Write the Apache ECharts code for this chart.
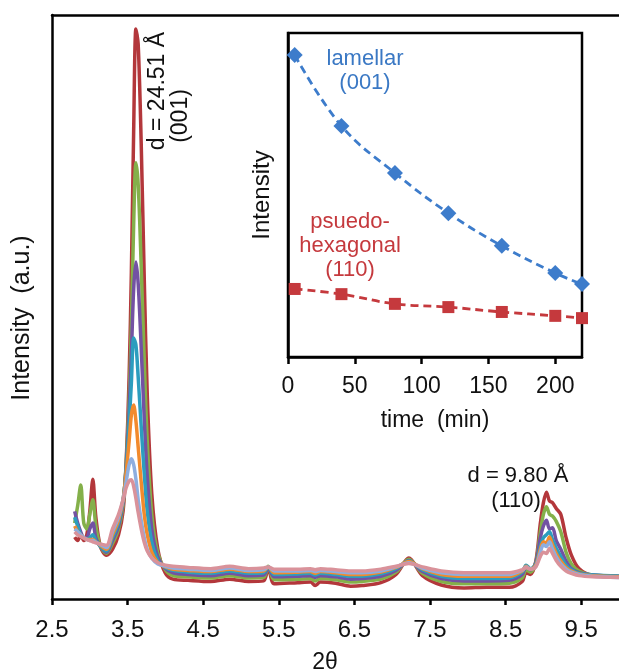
<!DOCTYPE html>
<html><head><meta charset="utf-8">
<script src="https://cdn.jsdelivr.net/npm/echarts@6/dist/echarts.min.js"></script>
<style>html,body{margin:0;padding:0;background:#fff}#c{width:619px;height:672px}</style>
</head><body><div id="c"></div>
<script>
// ---- main XRD patterns (2θ vs intensity, a.u.) ----
const twoTheta = [2.80,2.84,2.88,2.92,2.96,3.00,3.04,3.08,3.14,3.22,
  3.30,3.38,3.44,3.48,3.52,3.55,3.58,3.61,3.64,3.68,3.72,3.76,3.82,3.90,4.00,4.10,
  4.30,4.60,4.85,5.10,5.30,5.36,5.44,5.75,5.92,5.98,6.05,6.25,6.45,6.60,6.85,7.05,
  7.22,7.40,7.65,7.95,8.25,8.55,8.72,8.77,8.83,8.90,8.96,9.00,9.04,9.08,9.12,9.17,
  9.23,9.30,9.37,9.47,9.65,10.0];
const patRed = [10.6,10.0,11.0,10.0,11.0,15.0,20.5,14.0,9.0,7.5,
  8.5,11,15,23,38,56,80,97.6,95,78,55,35,18,8.5,4.4,3.4,
  3.2,3.0,3.4,3.0,3.1,5.3,2.6,2.8,2.9,2.3,2.9,2.7,2.2,2.3,2.8,4.2,
  7.0,4.0,2.4,1.9,2.0,2.0,3.0,4.5,4.2,6.5,13,16.5,18.3,16.8,16.5,15.5,
  14.5,10.5,7.5,5.2,4.0,3.8];
const patGreen = [13,16,19.5,13,12,14.5,17,12.5,9,7.8,
  9.5,12,16,23,34,47,64,74.7,71,57,41,27,14.5,7.8,5,4,
  3.8,3.6,4.0,3.6,3.7,5.6,3.3,3.4,3.5,3.1,3.5,3.3,2.9,3.0,3.4,4.6,
  6.8,4.4,3.0,2.6,2.6,2.7,3.6,5.0,4.6,6.3,11.5,14.5,15.8,14.5,14.2,13.3,
  11.5,8.0,6.0,4.8,4.1,3.9];
const patPurple = [15,13,11.5,10.5,10.5,12,13,10.5,9,8,
  10,12.5,16.5,22.5,32,42,53,57.7,54,43,31,21,12,7.2,5.2,4.5,
  4.2,4.0,4.4,4.0,4.1,5.4,3.8,3.9,4.0,3.7,4.0,3.8,3.4,3.5,3.9,4.9,
  6.6,4.7,3.5,3.1,3.1,3.2,4.2,5.6,5.0,6.2,10.5,12.5,13.5,12.0,12.2,10.0,
  8.5,6.5,5.2,4.5,4.1,3.9];
const patTeal = [14,12.5,11,10.5,10.3,10.5,11,10,9,8.2,
  10.5,13,17,22,30,37,44.7,43.5,38,29.5,21.5,15,9.8,6.6,5.4,4.9,
  4.6,4.4,4.8,4.4,4.5,5.5,4.2,4.3,4.4,4.1,4.4,4.2,3.9,3.9,4.3,5.2,
  6.5,5.0,3.9,3.5,3.5,3.6,4.6,5.8,5.2,6.0,9.0,10.5,11.0,11.5,10.2,8.7,
  7.3,5.8,5.0,4.4,4.1,3.9];
const patOrange = [12.5,11.5,11,10.5,10.2,10.2,10.2,9.8,9.2,8.5,
  11,13.5,17,21.5,27,31.5,33.2,30.5,26,20,14.5,11,8,6.2,5.5,5.1,
  4.9,4.7,5.1,4.7,4.8,5.5,4.5,4.6,4.7,4.4,4.7,4.5,4.2,4.2,4.6,5.4,
  6.4,5.2,4.2,3.9,3.9,3.9,4.8,5.6,5.1,5.8,8.5,9.8,9.6,10.6,9.3,7.8,
  6.5,5.4,4.8,4.3,4.0,3.8];
const patLightBlue = [12,11.5,11,10.5,10.2,10,10,9.7,9.3,8.8,
  11.5,14,17,20,23,24,23,20.5,17,13.5,10.5,8.5,7,6,5.6,5.3,
  5.1,4.9,5.3,4.9,5.0,5.5,4.8,4.8,4.9,4.7,4.9,4.7,4.5,4.5,4.8,5.5,
  6.2,5.3,4.5,4.2,4.2,4.2,4.9,5.5,5.1,5.6,8.0,9.3,9.0,9.8,8.6,7.2,
  6.0,5.1,4.6,4.2,3.9,3.7];
const patPink = [11.5,11,10.7,10.4,10.2,10,9.8,9.6,9.4,9.2,
  12,14.5,17,19,20.2,20.4,19.3,17.2,14.8,12,9.7,8.2,7,6.2,5.8,5.6,
  5.4,5.2,5.6,5.2,5.3,5.5,5.1,5.1,5.2,5.0,5.2,5.0,4.8,4.8,5.1,5.6,
  6.1,5.5,4.8,4.5,4.5,4.5,5.0,5.4,5.1,5.5,7.3,8.0,7.8,8.7,7.8,6.6,
  5.6,4.8,4.4,4.0,3.8,3.7];
const xTickLabels = [2.5,3.5,4.5,5.5,6.5,7.5,8.5,9.5];

// ---- inset: intensity vs time ----
const timeMin = [5,40,80,120,160,200,220];
const lamellar001 = [93.2,71.3,56.8,44.4,34.3,25.9,22.5];
const pseudoHex110 = [21.0,19.4,16.4,15.4,13.9,12.7,12.0];
const timeTicks = [0,50,100,150,200];

const FONT = 'Liberation Sans, Arial, sans-serif';
const patterns = [
  {d: patRed, c: '#B3373B'},
  {d: patGreen, c: '#84B04A'},
  {d: patPurple, c: '#7352A3'},
  {d: patTeal, c: '#2C9DBE'},
  {d: patOrange, c: '#F28A2C'},
  {d: patLightBlue, c: '#8EAEDF'},
  {d: patPink, c: '#D9929A'}
];

const chart = echarts.init(document.getElementById('c'), null, {renderer: 'canvas'});
const series = patterns.map(p => ({
  type: 'line', xAxisIndex: 0, yAxisIndex: 0,
  data: twoTheta.map((x, i) => [x, p.d[i]]),
  showSymbol: false, smooth: 0.3,
  lineStyle: {color: p.c, width: 3.5}, itemStyle: {color: p.c}, z: 2
}));
series.push({
  type: 'line', xAxisIndex: 2, yAxisIndex: 1,
  data: timeMin.map((t, i) => [t, lamellar001[i]]),
  symbol: 'diamond', symbolSize: 16, smooth: 0.4,
  lineStyle: {color: '#3D7CCB', width: 2.8, type: [8, 5]},
  itemStyle: {color: '#3D7CCB'}, z: 20
});
series.push({
  type: 'line', xAxisIndex: 2, yAxisIndex: 1,
  data: timeMin.map((t, i) => [t, pseudoHex110[i]]),
  symbol: 'rect', symbolSize: 12, smooth: 0.4,
  lineStyle: {color: '#C5393D', width: 2.8, type: [8, 5]},
  itemStyle: {color: '#C5393D'}, z: 20
});

const txt = (t, x, y, color, rot, size) => ({
  type: 'text', x: x, y: y, rotation: rot || 0, z: 100,
  style: {text: t, fill: color, font: (size || 22) + 'px ' + FONT, textAlign: 'center', textVerticalAlign: 'middle'}
});

chart.setOption({
  animation: false,
  backgroundColor: '#fff',
  grid: [
    {left: 52, right: 0, top: 15, bottom: 73},
    {left: 288, right: 37, top: 33, bottom: 315, show: true, backgroundColor: '#fff', borderColor: '#000', borderWidth: 2.5, z: 10}
  ],
  xAxis: [
    {gridIndex: 0, type: 'value', min: 2.5, max: 10,
     axisLine: {lineStyle: {color: '#000', width: 2.5}},
     axisTick: {customValues: xTickLabels, length: 6, lineStyle: {color: '#000', width: 2.5}},
     axisLabel: {customValues: xTickLabels, fontSize: 24, color: '#111', fontFamily: FONT, margin: 19},
     splitLine: {show: false}},
    {gridIndex: 0, type: 'value', position: 'top', min: 2.5, max: 10,
     axisLine: {lineStyle: {color: '#000', width: 2.5}},
     axisTick: {show: false}, axisLabel: {show: false}, splitLine: {show: false}},
    {gridIndex: 1, type: 'value', min: 0, max: 220,
     axisLine: {lineStyle: {color: '#000', width: 2.5}},
     axisTick: {customValues: timeTicks, length: 7, lineStyle: {color: '#000', width: 2.5}},
     axisLabel: {customValues: timeTicks, fontSize: 23, color: '#111', fontFamily: FONT, margin: 18},
     splitLine: {show: false},
     name: 'time  (min)', nameLocation: 'middle', nameGap: 52,
     nameTextStyle: {fontSize: 23, color: '#111', fontFamily: FONT}, z: 12}
  ],
  yAxis: [
    {gridIndex: 0, type: 'value', min: 0, max: 100,
     axisLine: {show: true, lineStyle: {color: '#000', width: 2.5}},
     axisTick: {show: false}, axisLabel: {show: false}, splitLine: {show: false}},
    {gridIndex: 1, type: 'value', min: 0, max: 100,
     axisLine: {show: true, lineStyle: {color: '#000', width: 2.5}},
     axisTick: {show: false}, axisLabel: {show: false}, splitLine: {show: false},
     name: 'Intensity', nameLocation: 'middle', nameGap: 14,
     nameTextStyle: {fontSize: 24, color: '#111', fontFamily: FONT}, z: 12}
  ],
  series: series,
  graphic: [
    txt('Intensity  (a.u.)', 22, 318, '#111', Math.PI / 2, 25),
    txt('2θ', 325, 663, '#111', 0, 23),
    txt('d = 24.51 Å', 158, 91, '#111', Math.PI / 2, 23),
    txt('(001)', 181, 116, '#111', Math.PI / 2, 23),
    txt('d = 9.80 Å', 518, 476, '#111'),
    txt('(110)', 516, 501, '#111'),
    txt('lamellar', 365, 59, '#3A78C4'),
    txt('(001)', 365, 83, '#3A78C4'),
    txt('psuedo-', 350, 222, '#C5393D'),
    txt('hexagonal', 350, 246, '#C5393D'),
    txt('(110)', 350, 270, '#C5393D')
  ]
});
</script>
</body></html>
